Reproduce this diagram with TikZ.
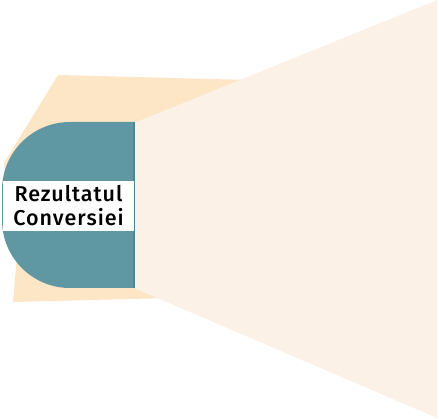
\documentclass[tikz,border=0pt]{standalone}
\usepackage{fontspec}
\setmainfont{Fira Sans}[BoldFont={Fira Sans Medium}]
\definecolor{creamC}{HTML}{FBF1E7}
\definecolor{peachC}{HTML}{FCE6C6}
\definecolor{tealC}{HTML}{5F97A3}
\definecolor{tealD}{HTML}{4A8794}
\tikzset{
  labelbox/.style={fill=white, inner sep=0pt, minimum width=131pt, minimum height=50pt, align=center,
    font=\fontsize{21.5}{24}\selectfont\bfseries\addfontfeatures{LetterSpace=4.5}, text=black}
}
\begin{document}
\begin{tikzpicture}[x=1pt,y=-1pt]
\useasboundingbox (0,0) rectangle (439,419);
% peach back shape
\fill[peachC] (58,75) -- (250,80) -- (250,296) -- (13,302) -- (17,255) -- (4,163) -- cycle;
% cream trapezoid
\fill[creamC] (134,123) -- (437,0) -- (437,418) -- (134,288) -- cycle;
% teal half-rounded shape
\fill[tealC] (134,122) -- (70,122) arc[start angle=90, end angle=180, x radius=68, y radius=-68]
  -- (2,220) arc[start angle=180, end angle=270, x radius=68, y radius=-68] -- (134,288) -- cycle;
\draw[tealD, line width=1.5pt] (134,122) -- (134,288);
% label
\node[labelbox] (res) at (68.5,206) {Rezultatul\\Conversiei};
\end{tikzpicture}
\end{document}
